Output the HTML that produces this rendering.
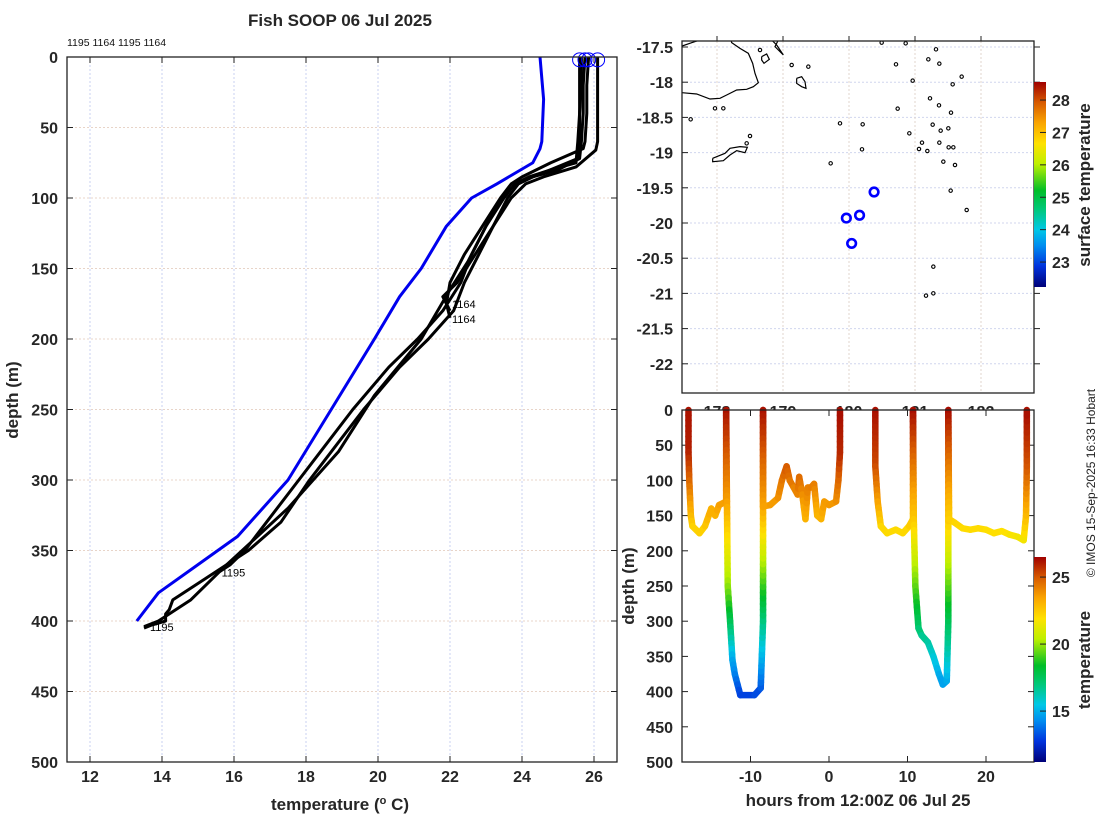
<!DOCTYPE html>
<html><head><meta charset="utf-8"><style>
html,body{margin:0;padding:0;background:#fff}
svg{display:block;font-family:"Liberation Sans",sans-serif}
.tk{font-size:16px;font-weight:bold;fill:#262626}
.lab{font-size:17px;font-weight:bold;fill:#262626}
</style></head><body>
<svg id="c" width="1100" height="820" viewBox="0 0 1100 820" xmlns="http://www.w3.org/2000/svg">
<rect width="1100" height="820" fill="#fff"/>
<g id="left"></g>
<g id="map"></g>
<g id="sect"></g>
</svg>
<script>
// ---------- data ----------
const climDepth=[0,30,60,65,75,90,100,120,150,170,200,250,300,340,360,380,400];
const climTemp=[24.5,24.6,24.55,24.5,24.3,23.3,22.6,21.9,21.2,20.6,19.9,18.7,17.5,16.1,15.0,13.9,13.3];
const p1Depth=[0,20,40,60,72,80,85,90,100,120,140,160,180,200,220,250,280,300,330,350,370,385,392,395,400,403,405];
const p1Temp=[25.75,25.7,25.7,25.65,25.6,25.0,24.3,23.9,23.6,23.2,22.8,22.4,22.1,21.4,20.6,19.6,18.7,18.1,17.3,16.4,15.2,14.3,14.2,14.1,14.1,13.7,13.5];
const p2Depth=[0,20,40,60,75,80,85,90,100,120,140,160,180,200,220,250,280,300,330,350,360,365];
const p2Temp=[25.6,25.6,25.6,25.55,25.5,24.8,24.2,23.8,23.5,23.0,22.6,22.3,21.8,21.1,20.3,19.3,18.4,17.8,16.9,16.3,15.9,15.6];
const p3Depth=[0,20,40,60,66,78,85,90,100,120,140,160,170,180];
const p3Temp=[26.1,26.1,26.1,26.1,26.05,25.5,24.6,24.1,23.7,23.2,22.7,22.2,21.8,22.0];
const p4Depth=[0,20,40,60,65,75,85,90,100,120,140,160,175,185];
const p4Temp=[25.85,25.8,25.8,25.75,25.7,24.8,24.0,23.7,23.4,22.9,22.4,22.0,21.9,22.0];
const p5Depth=[0,20,40,60,72,82,88,95,105,125,145,165,200,240,280,320,360,385,400,404];
const p5Temp=[25.65,25.65,25.6,25.6,25.55,24.6,24.0,23.6,23.3,22.9,22.5,22.0,21.2,19.9,18.9,17.5,15.8,14.8,13.9,13.5];
const surfTemp=[25.6,25.75,25.85,26.1];
const labelText=["1195","1164","1195","1164"];
const xTicks=[12,14,16,18,20,22,24,26];
const yTicks=[0,50,100,150,200,250,300,350,400,450,500];
// map
const stnLon=[180.38,179.96,180.16,180.04];
const stnLat=[-19.56,-19.93,-19.89,-20.29];
const latTicks=[-17.5,-18,-18.5,-19,-19.5,-20,-20.5,-21,-21.5,-22];
const lonTicks=[178,179,180,181,182];
const sstTicks=[23,24,25,26,27,28];
// section track
const trHours=[-17.9,-17.9,-17.8,-17.6,-17.4,-16.5,-15.8,-15.0,-14.5,-14.0,-13.1,-13.1,-13.0,-12.9,-12.6,-12.3,-12.0,-11.3,-9.5,-8.7,-8.4,-8.4,-8.4,-8.4,-7.5,-6.5,-6.0,-5.4,-5.0,-4.5,-4.0,-3.8,-3.4,-3.0,-2.7,-2.3,-1.9,-1.5,-1.0,-0.6,0.0,0.9,1.2,1.4,1.4];
const trDepth=[0,60,100,150,165,175,165,140,150,135,130,0,130,250,300,355,375,405,405,395,300,130,0,137,135,125,100,80,100,110,120,95,120,155,110,110,105,150,155,130,135,130,100,60,0];
const trTemp=[26.2,26.0,24.8,23.0,22.4,22.2,22.5,23.3,23.0,23.5,23.6,26.3,23.6,20.0,17.8,14.9,14.2,13.0,13.0,13.3,16.8,23.6,26.3,23.5,23.5,23.8,24.3,25.0,24.5,24.2,24.0,24.7,24.0,23.0,24.2,24.2,24.3,23.1,23.0,23.7,23.6,23.8,24.6,25.8,26.3];
const tr2Hours=[5.9,5.9,6.2,6.6,7.4,8.5,9.4,10.2,10.7,10.7,10.8,11.0,11.4,11.8,12.6,13.3,14.0,14.5,15.0,15.2,15.2,15.2,15.3,16,17,18,19,20,21,22,23,24,24.8,25.1,25.2,25.2];
const tr2Depth=[0,80,130,165,175,170,175,165,155,0,155,250,310,320,330,350,375,390,385,300,150,0,155,160,168,170,168,170,175,172,177,180,185,150,80,0];
const tr2Temp=[26.3,25.3,23.6,22.3,22.0,22.2,22.0,22.3,22.6,26.4,22.6,19.5,17.3,16.8,16.5,15.8,15.0,14.6,14.8,17.5,22.6,26.4,22.4,22.3,22.1,22.0,22.1,22.0,21.9,22.0,21.8,21.7,21.5,22.8,25.0,26.3];
const hTicks=[-10,0,10,20];
const tTicks=[15,20,25];

// ---------- helpers ----------
const NS="http://www.w3.org/2000/svg";
function mk(tag,attrs,parent,txt){const e=document.createElementNS(NS,tag);for(const k in attrs)e.setAttribute(k,attrs[k]);if(txt!==undefined)e.textContent=txt;parent.appendChild(e);return e;}
const jet=[[0,[0,0,120]],[0.1,[0,50,220]],[0.2,[0,140,240]],[0.28,[0,200,230]],[0.38,[0,200,120]],[0.47,[0,190,40]],[0.6,[190,240,0]],[0.7,[255,225,0]],[0.8,[250,165,0]],[0.9,[215,90,0]],[1,[160,0,0]]];
function cmap(f){f=Math.max(0,Math.min(1,f));for(let i=1;i<jet.length;i++){if(f<=jet[i][0]){const a=jet[i-1],b=jet[i];const t=(f-a[0])/(b[0]-a[0]);const c=a[1].map((v,j)=>Math.round(v+(b[1][j]-v)*t));return `rgb(${c})`;}}return "rgb(160,0,0)";}

// ---------- left profile panel ----------
const L=document.getElementById('left');
const lx=t=>90+(t-12)*36, ly=d=>57+d*1.41;
mk('text',{x:340,y:26,'text-anchor':'middle',class:'lab',},L,'Fish SOOP 06 Jul 2025');
mk('text',{x:67,y:46,'font-size':'10.5',fill:'#111',},L,labelText.join(' '));
mk('rect',{x:67,y:57,width:550,height:705,fill:'#fff',stroke:'none'},L);
xTicks.forEach(t=>{
  const g=mk('line',{x1:lx(t),x2:lx(t),y1:57,y2:762,stroke:'#c8d2f0','stroke-dasharray':'2,2','stroke-width':1},L);
  
  mk('line',{x1:lx(t),x2:lx(t),y1:57,y2:63,stroke:'#222'},L);mk('line',{x1:lx(t),x2:lx(t),y1:762,y2:756,stroke:'#222'},L);
  const tx=mk('text',{x:lx(t),y:782,'text-anchor':'middle',class:'tk'},L,String(t));
  
});
yTicks.forEach(d=>{
  if(d>0&&d<500){const g=mk('line',{x1:67,x2:617,y1:ly(d),y2:ly(d),stroke:'#e8d4c8','stroke-dasharray':'2,2'},L);
  }
  mk('line',{x1:67,x2:73,y1:ly(d),y2:ly(d),stroke:'#222'},L);mk('line',{x1:617,x2:611,y1:ly(d),y2:ly(d),stroke:'#222'},L);
  const tx=mk('text',{x:58,y:ly(d)+6,'text-anchor':'end',class:'tk'},L,String(d));
  
});
function prof(ts,ds,col,w,name){const p=mk('polyline',{points:ts.map((t,i)=>lx(t)+','+ly(ds[i])).join(' '),fill:'none',stroke:col,'stroke-width':w,'stroke-linejoin':'round'},L);
  }
prof(p1Temp,p1Depth,'#000',3,'profile-1195-a');
prof(p2Temp,p2Depth,'#000',3,'profile-1195-b');
prof(p5Temp,p5Depth,'#000',3,'profile-1195-c');
prof(p3Temp,p3Depth,'#000',3,'profile-1164-a');
prof(p4Temp,p4Depth,'#000',3,'profile-1164-b');
prof(climTemp,climDepth,'#0000ee',3,'climatology-profile');
surfTemp.forEach(t=>{const c=mk('circle',{cx:lx(t),cy:ly(2),r:7,fill:'none',stroke:'#0000ff','stroke-width':1},L);
  });
function elab(t,d,s,dx,dy){const e=mk('text',{x:lx(t)+dx,y:ly(d)+dy,'font-size':'11',fill:'#000'},L,s);
  }
elab(p1Temp[p1Temp.length-1],p1Depth[p1Depth.length-1],'1195',6,3);
elab(p2Temp[p2Temp.length-1],p2Depth[p2Depth.length-1],'1195',2,5);
elab(p3Temp[p3Temp.length-1],p3Depth[p3Depth.length-1],'1164',2,-3);
elab(p4Temp[p4Temp.length-1],p4Depth[p4Depth.length-1],'1164',2,5);
mk('rect',{x:67,y:57,width:550,height:705,fill:'none',stroke:'#222','stroke-width':1.3},L);
const xl=mk('text',{x:340,y:810,'text-anchor':'middle',class:'lab'},L);

xl.innerHTML='temperature (<tspan dy="-6" font-size="11">o</tspan><tspan dy="6"> C)</tspan>';
const yl=mk('text',{x:0,y:0,'text-anchor':'middle',class:'lab',transform:'translate(18,400) rotate(-90)'},L,'depth (m)');


// ---------- map ----------
const M=document.getElementById('map');
const mx=lon=>717+(lon-178)*66, my=lat=>47-(lat+17.5)*70.4;
mk('defs',{},M).innerHTML='<clipPath id="mclip"><rect x="682" y="41" width="352" height="352"/></clipPath><clipPath id="lclip"><rect x="682" y="393" width="352" height="17"/></clipPath><linearGradient id="g1" x1="0" y1="1" x2="0" y2="0">'+
 jet.map(s=>`<stop offset="${s[0]}" stop-color="${cmap(s[0])}"/>`).join('')+'</linearGradient>';
latTicks.forEach(v=>{
  mk('line',{x1:682,x2:1034,y1:my(v),y2:my(v),stroke:'#d0d6ee','stroke-dasharray':'2,2'},M);
  mk('line',{x1:682,x2:688,y1:my(v),y2:my(v),stroke:'#222'},M);mk('line',{x1:1034,x2:1040,y1:my(v),y2:my(v),stroke:'#222'},M);
  const t=mk('text',{x:673,y:my(v)+6,'text-anchor':'end',class:'tk'},M,String(v));
  
});
const lg=mk('g',{'clip-path':'url(#lclip)'},M);
lonTicks.forEach(v=>{
  mk('line',{x1:mx(v),x2:mx(v),y1:41,y2:393,stroke:'#e2d6cc','stroke-dasharray':'2,2'},M);
  mk('line',{x1:mx(v),x2:mx(v),y1:36,y2:41,stroke:'#222'},M);
  const t=mk('text',{x:mx(v),y:417,'text-anchor':'middle',class:'tk'},lg,String(v));
  
});
const cg=mk('g',{'clip-path':'url(#mclip)',fill:'none',stroke:'#000','stroke-width':1.2},M);

const Z=(zx,zy)=>(620+zx/3)+','+(30+zy/3);
const coast1=[[170,188],[186,188],[230,192],[270,207],[300,205],[320,195],[350,180],[380,178],[400,170],[415,158],[405,130],[398,100],[385,70],[360,55],[335,38],[330,20]];
mk('polyline',{points:coast1.map(p=>Z(p[0],p[1])).join(' ')},cg);
mk('polyline',{points:[[186,48],[215,38],[240,30]].map(p=>Z(p[0],p[1])).join(' ')},cg);
mk('polyline',{points:[[455,30],[470,45],[490,75],[465,50],[475,30]].map(p=>Z(p[0],p[1])).join(' ')},cg);
const kad=[[278,385],[278,395],[310,392],[330,375],[350,362],[375,368],[382,352],[360,350],[330,355],[315,370],[290,380],[278,385]];
mk('polyline',{points:kad.map(p=>Z(p[0],p[1])).join(' ')},cg);
mk('polyline',{points:[[530,145],[545,140],[555,155],[558,175],[545,170],[530,160],[530,145]].map(p=>Z(p[0],p[1])).join(' ')},cg);
mk('polyline',{points:[[425,80],[440,72],[448,88],[432,100],[425,90],[425,80]].map(p=>Z(p[0],p[1])).join(' ')},cg);
const isl=[[212,268],[285,235],[310,235],[380,340],[390,318],[420,60],[515,105],[565,110],[632,400],[660,280],[728,283],[726,358],[785,38],[828,103],[857,40],[878,152],[833,236],[868,310],[906,338],[897,357],[922,363],[925,88],[948,58],[958,101],[930,205],[957,226],[993,248],[938,284],[962,302],[985,295],[958,338],[986,352],[1000,352],[970,395],[1005,405],[992,482],[1040,540],[998,163],[1025,140],[940,710],[940,790],[918,797]];
isl.forEach(p=>{mk('ellipse',{cx:620+p[0]/3,cy:30+p[1]/3,rx:1.7,ry:1.7,'stroke-width':1.1},cg);});
stnLon.forEach((v,i)=>{const c=mk('circle',{cx:mx(v),cy:my(stnLat[i]),r:4.3,fill:'none',stroke:'#0000ff','stroke-width':2.6},M);
  });
mk('rect',{x:682,y:41,width:352,height:352,fill:'none',stroke:'#222','stroke-width':1.3},M);
// sst colorbar
const cb1=mk('rect',{x:1034,y:82,width:12,height:205,fill:'url(#g1)'},M);

const sy=t=>287-(t-22.23)*32.4;
sstTicks.forEach(t=>{mk('line',{x1:1040,x2:1046,y1:sy(t),y2:sy(t),stroke:'#222'},M);
  const e=mk('text',{x:1052,y:sy(t)+6,class:'tk'},M,String(t));});
const st=mk('text',{x:0,y:0,'text-anchor':'middle',class:'lab',transform:'translate(1090,185) rotate(-90)'},M,'surface temperature');

const cp=mk('text',{x:0,y:0,'text-anchor':'middle','font-size':'12',fill:'#222',transform:'translate(1095,483) rotate(-90)'},M,'© IMOS 15-Sep-2025 16:33 Hobart');


// ---------- section ----------
const S=document.getElementById('sect');
const hx=h=>829+h*7.85, dy=d=>410+d*0.704;
const tf=t=>(t-11.2)/(26.5-11.2);
mk('rect',{x:682,y:410,width:352,height:352,fill:'#fff'},S);
hTicks.forEach(h=>{mk('line',{x1:hx(h),x2:hx(h),y1:762,y2:756,stroke:'#222'},S);mk('line',{x1:hx(h),x2:hx(h),y1:410,y2:416,stroke:'#222'},S);
  const e=mk('text',{x:hx(h),y:782,'text-anchor':'middle',class:'tk'},S,String(h));});
yTicks.forEach(d=>{mk('line',{x1:682,x2:688,y1:dy(d),y2:dy(d),stroke:'#222'},S);mk('line',{x1:1034,x2:1028,y1:dy(d),y2:dy(d),stroke:'#222'},S);
  const e=mk('text',{x:673,y:dy(d)+6,'text-anchor':'end',class:'tk'},S,String(d));});
function track(hs,ds,ts,name){const g=mk('g',{'stroke-width':6.5,'stroke-linecap':'round',fill:'none'},S);
  
  for(let i=1;i<hs.length;i++){const n=Math.max(1,Math.round(Math.abs(ds[i]-ds[i-1])/8));
    for(let k=0;k<n;k++){const a=k/n,b=(k+1)/n;
      const h1=hs[i-1]+(hs[i]-hs[i-1])*a,h2=hs[i-1]+(hs[i]-hs[i-1])*b;
      const d1=ds[i-1]+(ds[i]-ds[i-1])*a,d2=ds[i-1]+(ds[i]-ds[i-1])*b;
      const t=ts[i-1]+(ts[i]-ts[i-1])*(a+b)/2;
      mk('line',{x1:hx(h1),y1:dy(d1),x2:hx(h2),y2:dy(d2),stroke:cmap(tf(t))},g);}}}
track(trHours,trDepth,trTemp,'fish-track-1');
track(tr2Hours,tr2Depth,tr2Temp,'fish-track-2');
mk('rect',{x:682,y:410,width:352,height:352,fill:'none',stroke:'#222','stroke-width':1.3},S);
const cb2=mk('rect',{x:1034,y:557,width:12,height:205,fill:'url(#g1)'},S);

const ty=t=>762-(t-11.2)*13.4;
tTicks.forEach(t=>{mk('line',{x1:1040,x2:1046,y1:ty(t),y2:ty(t),stroke:'#222'},S);
  const e=mk('text',{x:1052,y:ty(t)+6,class:'tk'},S,String(t));});
const tt=mk('text',{x:0,y:0,'text-anchor':'middle',class:'lab',transform:'translate(1090,660) rotate(-90)'},S,'temperature');

const sx=mk('text',{x:858,y:806,'text-anchor':'middle',class:'lab'},S,'hours from 12:00Z 06 Jul 25');

const sl=mk('text',{x:0,y:0,'text-anchor':'middle',class:'lab',transform:'translate(634,586) rotate(-90)'},S,'depth (m)');

</script>
</body></html>
